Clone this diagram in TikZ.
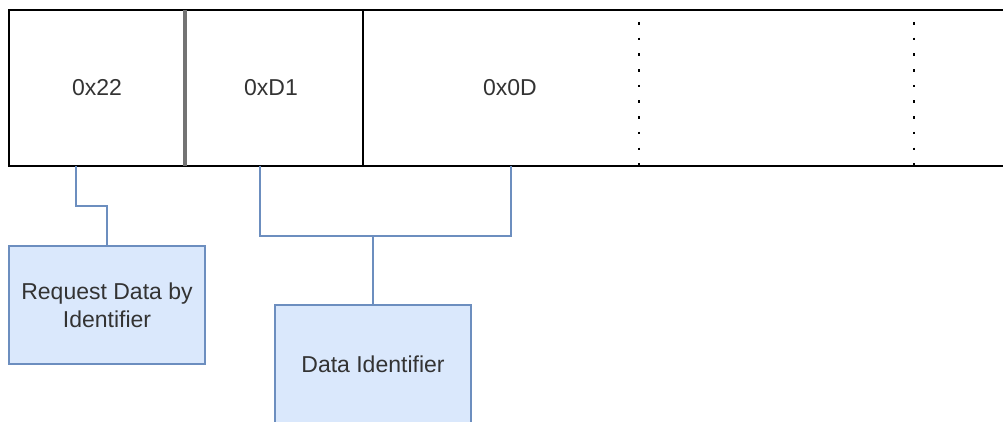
\documentclass[tikz,border=0pt]{standalone}
\usepackage{fontspec}
\setmainfont{Liberation Sans}
\usetikzlibrary{positioning,calc}

\definecolor{infofill}{HTML}{DAE8FC}
\definecolor{infoline}{HTML}{6C8EBF}

\begin{document}
\begin{tikzpicture}[x=0.5pt,y=-0.5pt,
  cell/.style={minimum height=78pt,inner sep=0pt,font=\fontsize{11.5}{14}\selectfont,text=black!80},
  frame/.style={line width=1pt},
  dots/.style={line width=1.3pt,dash pattern=on 1.3pt off 6.55pt},
  info/.style={draw=infoline,fill=infofill,line width=0.9pt,minimum width=98pt,minimum height=59pt,
    inner sep=0pt,align=center,font=\fontsize{11.5}{14}\selectfont,text=black!80},
  link/.style={draw=infoline,line width=0.9pt}]

  \useasboundingbox (0,0) rectangle (1003,422);

  % message bytes
  \node[cell] (sid) at (97,88) {0x22};
  \node[cell] (didhi) at (271,88) {0xD1};
  \node[cell] (didlo) at (510,88) {0x0D};

  \draw[frame] (1003,10) -- (9,10) -- (9,166) -- (1003,166);
  \draw[line width=1.7pt,draw=black!55] (185,10) -- (185,166);
  \draw[frame] (363,10) -- (363,166);
  \draw[dots] (639,22) -- (639,166);
  \draw[dots] (914,22) -- (914,166);

  % meaning of the bytes
  \node[info] (req) at (107,305) {Request Data by\\Identifier};
  \node[info] (did) at (373,364) {Data Identifier};

  \coordinate (sidtap) at (76,166);
  \coordinate (hitap) at (260,166);
  \coordinate (lotap) at (511,166);
  \coordinate (join) at (373,236);

  \draw[link] (sidtap) -- ++(0,40) -| (req.north);
  \draw[link] (hitap) |- (join) -| (lotap);
  \draw[link] (join) -- (did.north);
\end{tikzpicture}
\end{document}
